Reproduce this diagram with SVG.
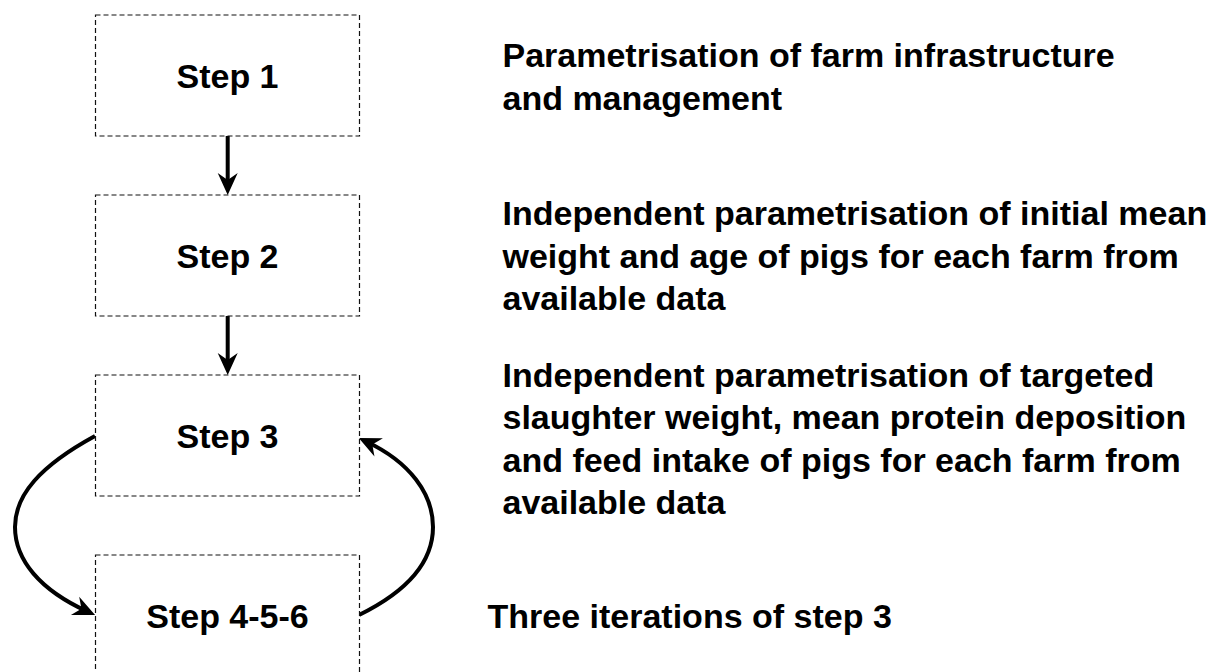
<svg xmlns="http://www.w3.org/2000/svg" width="1216" height="672" viewBox="0 0 1216 672">
<style>
.box{fill:#fff;stroke:#111;stroke-width:1.2;stroke-dasharray:5 3}
.lbl{font-family:"Liberation Sans",Arial,sans-serif;font-weight:bold;font-size:34px;fill:#000}
.conn{fill:none;stroke:#000;stroke-width:4}
.head{fill:#000;stroke:none}
</style>
<defs>
<marker id="ah" markerUnits="userSpaceOnUse" viewBox="-24 -12 28 24" refX="-8" refY="0" markerWidth="28" markerHeight="24" orient="auto">
<path d="M0,0 L-22,-10 L-15,0 L-22,10 Z" fill="#000"/>
</marker>
</defs>
<rect width="1216" height="672" fill="#fff"/>
<g id="connectors">
<line class="conn" x1="227.7" y1="136" x2="227.7" y2="182"/>
<path class="head" d="M227.7,195 L217.7,173 L227.7,180 L237.7,173 Z"/>
<line class="conn" x1="227.7" y1="316" x2="227.7" y2="362"/>
<path class="head" d="M227.7,375 L217.7,353 L227.7,360 L237.7,353 Z"/>
<path class="conn" d="M95,436 C40,466 15,495 15,527 C15,560 40,590 87.8,611.7" marker-end="url(#ah)"/>
<path class="conn" d="M359,615 C410,590 433,560 433,527 C433,494 410,462 366,441.5" marker-end="url(#ah)"/>
</g>
<g id="step1">
<rect class="box" x="95.5" y="15" width="264" height="121"/>
<text class="lbl" x="227.5" y="88.3" text-anchor="middle">Step 1</text>
</g>
<g id="step2">
<rect class="box" x="95.5" y="195" width="264" height="121"/>
<text class="lbl" x="227.5" y="268.3" text-anchor="middle">Step 2</text>
</g>
<g id="step3">
<rect class="box" x="95.5" y="375" width="264" height="121"/>
<text class="lbl" x="227.5" y="448.3" text-anchor="middle">Step 3</text>
</g>
<g id="step456">
<rect class="box" x="95.5" y="555" width="264" height="121"/>
<text class="lbl" x="227.5" y="628.3" text-anchor="middle">Step 4-5-6</text>
</g>
<g id="desc1">
<text class="lbl" x="502.5" y="67.3">Parametrisation of farm infrastructure</text>
<text class="lbl" x="502.5" y="109.8">and management</text>
</g>
<g id="desc2">
<text class="lbl" x="502.5" y="225">Independent parametrisation of initial mean</text>
<text class="lbl" x="502.5" y="267.5">weight and age of pigs for each farm from</text>
<text class="lbl" x="502.5" y="310">available data</text>
</g>
<g id="desc3">
<text class="lbl" x="502.5" y="386.5">Independent parametrisation of targeted</text>
<text class="lbl" x="502.5" y="429">slaughter weight, mean protein deposition</text>
<text class="lbl" x="502.5" y="471.5">and feed intake of pigs for each farm from</text>
<text class="lbl" x="502.5" y="514">available data</text>
</g>
<g id="desc4">
<text class="lbl" x="487.5" y="628.3">Three iterations of step 3</text>
</g>
</svg>
